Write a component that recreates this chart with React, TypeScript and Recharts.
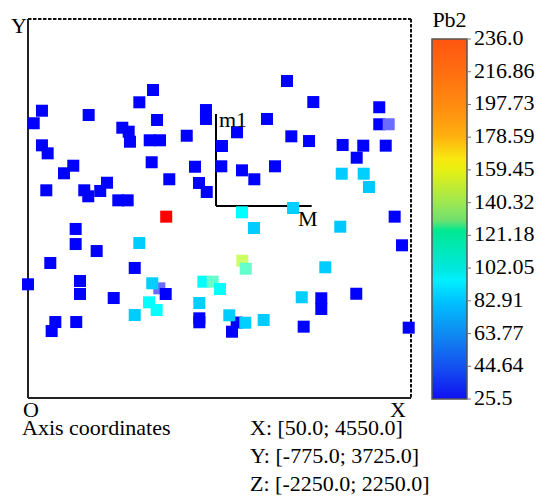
import React from "react";
import {
  ScatterChart,
  Scatter,
  XAxis,
  YAxis,
  ReferenceLine,
} from "recharts";

// point positions in axis coordinates, and the Pb2 value of each point
const xs = [
  3093, 1519, 214, 4177, 3402, 1358, 2141, 2141, 763, 117, 1566, 1158, 1233, 1248, 2858, 4177, 4288,
  2506, 214, 281, 1480, 1601, 1915, 2329, 3144, 3352, 3747, 3989, 4253, 3912, 1503, 582, 473, 2012,
  2321, 2952, 2564, 1710, 2709, 3736, 3994, 4056, 2059, 2150, 265, 711, 758, 899, 978, 1111, 1221,
  1674, 2564, 3164, 2705, 3719, 4358, 4444, 610, 610, 857, 1358, 312, 1304, 50, 661, 661, 1057, 1593,
  1510, 1668, 1472, 1562, 1304, 371, 328, 617, 2110, 2220, 2306, 2568, 2608, 2063, 2063, 2063, 2502,
  2447, 2415, 2603, 2819, 3543, 3266, 3496, 3496, 3907, 3289, 4523,
];
const ys = [
  2989, 2882, 2636, 2677, 2739, 2736, 2644, 2538, 2585, 2487, 2526, 2434, 2387, 2268, 2538, 2475, 2475,
  2380, 2225, 2130, 2285, 2285, 2339, 2217, 2332, 2276, 2229, 2221, 2221, 2078, 2024, 1983, 1893, 1971,
  1976, 1976, 1928, 1822, 1822, 1888, 1888, 1730, 1778, 1671, 1691, 1691, 1620, 1683, 1781, 1572, 1572,
  1378, 1430, 1481, 1243, 1259, 1378, 1038, 1232, 1053, 970, 1065, 828, 769, 575, 614, 460, 412, 527,
  587, 460, 361, 270, 210, 127, 20, 127, 606, 606, 519, 855, 760, 353, 171, 124, 121,
  12, 207, 119, 151, 777, 421, 409, 282, 463, 72, 60,
];
const pb2 = [
  34, 31, 29, 33, 30, 32, 28, 30, 35, 31, 29, 33, 30, 32, 31, 36, 22,
  30, 34, 29, 31, 33, 30, 32, 28, 35, 31, 30, 33, 29, 32, 30, 31, 34,
  30, 32, 29, 31, 33, 86, 87, 85, 30, 32, 31, 29, 33, 30, 34, 31, 30,
  236, 100, 87, 86, 85, 32, 30, 31, 33, 29, 86, 32, 30, 31, 34, 30, 32, 22,
  87, 31, 100, 101, 86, 30, 33, 31, 100, 120, 101, 150, 120, 87, 32, 30, 31,
  33, 86, 87, 86, 86, 87, 30, 32, 31, 29, 33,
];

const pb2Min = 25.5;
const pb2Max = 236.0;
const colorbarLabels = [
  "236.0", "216.86", "197.73", "178.59", "159.45", "140.32",
  "121.18", "102.05", "82.91", "63.77", "44.64", "25.5",
];

// colour ramp used for the markers
const markerStops: [number, number[]][] = [
  [25.5, [0, 0, 255]],
  [45, [0, 0, 255]],
  [85, [0, 200, 255]],
  [100, [0, 255, 255]],
  [120, [100, 255, 204]],
  [150, [204, 255, 102]],
  [180, [255, 255, 0]],
  [210, [255, 128, 0]],
  [236, [255, 0, 0]],
];
const underColor = "#6b6bff";

// colour ramp painted in the colour bar
const barStops: [number, string][] = [
  [236.0, "#ff5510"],
  [217.0, "#ff6e10"],
  [198.0, "#ff8a10"],
  [179.0, "#ffb010"],
  [166.0, "#f8e810"],
  [160.0, "#e8f010"],
  [141.0, "#a0e850"],
  [130.0, "#70e070"],
  [124.0, "#00e890"],
  [120.0, "#00e8a0"],
  [101.0, "#00e8e0"],
  [95.0, "#00f0ff"],
  [82.0, "#00c0ff"],
  [63.0, "#1088f0"],
  [44.0, "#1450f0"],
  [25.5, "#1010f0"],
];

const points = xs.map((x, i) => ({ x, y: ys[i], pb2: pb2[i] }));

function markerColor(v: number) {
  if (v < pb2Min) return underColor;
  for (let i = 1; i < markerStops.length; i++) {
    const [v1, c1] = markerStops[i];
    const [v0, c0] = markerStops[i - 1];
    if (v <= v1) {
      const t = (v - v0) / (v1 - v0);
      const c = c0.map((a, k) => Math.round(a + (c1[k] - a) * t));
      return `rgb(${c[0]},${c[1]},${c[2]})`;
    }
  }
  return "rgb(255,0,0)";
}

const SquareMarker = (props: any) => {
  const { cx, cy, payload } = props;
  if (cx == null || cy == null) return null;
  return (
    <rect
      x={cx - 6}
      y={cy - 6}
      width={12}
      height={12}
      fill={markerColor(payload.pb2)}
    />
  );
};

const font = "'Liberation Serif', 'Times New Roman', serif";

function Overlay() {
  const barX = 432;
  const barTop = 39;
  const barH = 360;
  const barW = 35;
  const step = barH / (colorbarLabels.length - 1);
  return (
    <svg
      width={540}
      height={502}
      style={{ position: "absolute", left: 0, top: 0, pointerEvents: "none" }}
      fontFamily={font}
      fontSize={22}
    >
      <defs>
        <linearGradient id="pbGrad" x1="0" y1="0" x2="0" y2="1">
          {barStops.map(([v, c]) => (
            <stop key={v} offset={(pb2Max - v) / (pb2Max - pb2Min)} stopColor={c} />
          ))}
        </linearGradient>
      </defs>

      {/* axis letters */}
      <text x={11} y={33}>Y</text>
      <text x={23} y={417}>O</text>
      <text x={390} y={417}>X</text>
      <text x={219} y={127}>m1</text>
      <text x={298} y={226}>M</text>

      {/* footer */}
      <text x={22} y={435}>Axis coordinates</text>
      <text x={250} y={435}>X: [50.0; 4550.0]</text>
      <text x={250} y={463}>Y: [-775.0; 3725.0]</text>
      <text x={250} y={491}>Z: [-2250.0; 2250.0]</text>

      {/* colour bar */}
      <text x={barX + barW / 2} y={27} textAnchor="middle">Pb2</text>
      <rect
        x={barX}
        y={barTop}
        width={barW}
        height={barH}
        fill="url(#pbGrad)"
        stroke="#555"
        strokeWidth={1.5}
      />
      {colorbarLabels.map((lab, i) => {
        const ty = barTop + i * step;
        return (
          <g key={lab}>
            <line x1={barX + barW} x2={barX + barW + 4} y1={ty} y2={ty} stroke="#777" strokeWidth={1} />
            <text x={barX + barW + 7} y={ty + 6}>{lab}</text>
          </g>
        );
      })}
    </svg>
  );
}

export default function App() {
  return (
    <div style={{ position: "absolute", left: 0, top: 0, width: 540, height: 502, background: "#fff" }}>
      <ScatterChart
        width={540}
        height={502}
        margin={{ top: 18, right: 128, bottom: 103, left: 27 }}
      >
        <XAxis
          xAxisId="bottom"
          type="number"
          dataKey="x"
          domain={[50, 4550]}
          height={1}
          tick={false}
          tickLine={false}
          axisLine={{ stroke: "#222", strokeWidth: 2 }}
        />
        <XAxis
          xAxisId="top"
          orientation="top"
          type="number"
          domain={[50, 4550]}
          height={1}
          tick={false}
          tickLine={false}
          axisLine={{ stroke: "#111", strokeWidth: 2, strokeDasharray: "3.5 1.5" }}
        />
        <YAxis
          yAxisId="left"
          type="number"
          dataKey="y"
          domain={[-775, 3725]}
          width={1}
          tick={false}
          tickLine={false}
          axisLine={{ stroke: "#222", strokeWidth: 2 }}
        />
        <YAxis
          yAxisId="right"
          orientation="right"
          type="number"
          domain={[-775, 3725]}
          width={1}
          tick={false}
          tickLine={false}
          axisLine={{ stroke: "#111", strokeWidth: 2, strokeDasharray: "3.5 1.5" }}
        />
        <Scatter
          data={points}
          xAxisId="bottom"
          yAxisId="left"
          shape={SquareMarker}
          isAnimationActive={false}
        />
        {/* local m1 / M axes */}
        <ReferenceLine
          xAxisId="bottom"
          yAxisId="left"
          segment={[{ x: 2259, y: 2597 }, { x: 2259, y: 1505 }]}
          stroke="#000"
          strokeWidth={2}
          ifOverflow="visible"
        />
        <ReferenceLine
          xAxisId="bottom"
          yAxisId="left"
          segment={[{ x: 2259, y: 1505 }, { x: 3383, y: 1505 }]}
          stroke="#000"
          strokeWidth={2}
          ifOverflow="visible"
        />
      </ScatterChart>
      <Overlay />
    </div>
  );
}
